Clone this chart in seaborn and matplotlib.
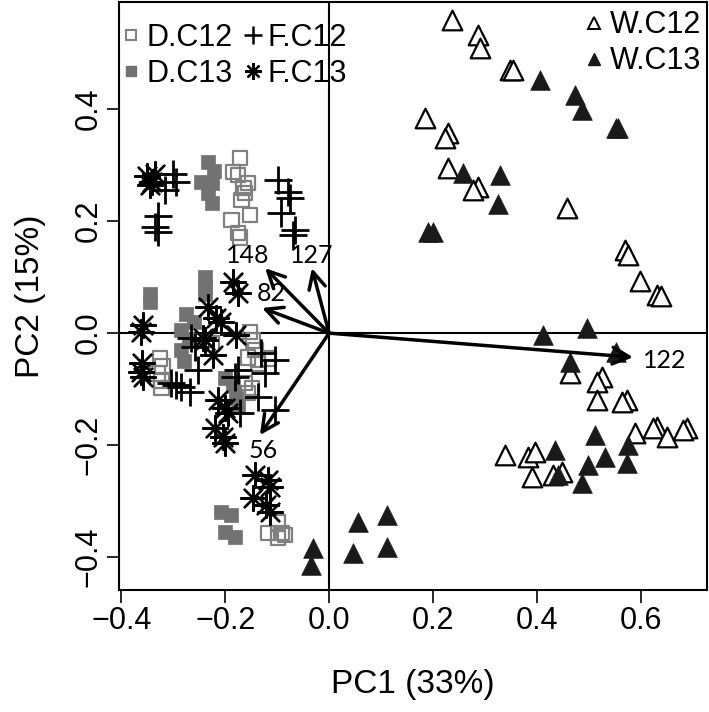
import numpy as np
import pandas as pd
import matplotlib
matplotlib.use('Agg')
import matplotlib.pyplot as plt
from matplotlib.lines import Line2D
import seaborn as sns

# PCA scores, per group
dc12_x = [-0.171, -0.185, -0.175, -0.156, -0.165, -0.162, -0.169, -0.152, -0.188, -0.175, -0.171,
          -0.325, -0.320, -0.330, -0.322, -0.322,
          -0.152, -0.146, -0.142, -0.156, -0.117, -0.137, -0.137, -0.148, -0.156, -0.162, -0.225,
          -0.098, -0.117, -0.092, -0.098, -0.085]
dc12_y = [0.313, 0.288, 0.282, 0.268, 0.259, 0.250, 0.238, 0.211, 0.202, 0.179, 0.171,
          -0.045, -0.060, -0.072, -0.085, -0.098,
          0.002, -0.013, -0.030, -0.043, -0.045, -0.048, -0.054, -0.098, -0.107, -0.089, -0.018,
          -0.338, -0.357, -0.357, -0.366, -0.360]

dc13_x = [-0.233, -0.222, -0.247, -0.226, -0.233, -0.226,
          -0.238, -0.238, -0.238, -0.345, -0.345,
          -0.275, -0.260, -0.285, -0.270, -0.285, -0.280,
          -0.200, -0.185, -0.180, -0.175,
          -0.208, -0.188, -0.200, -0.181]
dc13_y = [0.305, 0.290, 0.270, 0.268, 0.250, 0.232,
          0.100, 0.085, 0.070, 0.070, 0.055,
          0.035, 0.020, 0.005, -0.010, -0.030, -0.050,
          -0.080, -0.095, -0.115, -0.130,
          -0.320, -0.325, -0.355, -0.364]

fc12_x = [-0.300, -0.295, -0.315, -0.330, -0.335, -0.330,
          -0.098, -0.079, -0.075, -0.092, -0.065, -0.069,
          -0.265, -0.258, -0.252, -0.304, -0.294, -0.285, -0.267,
          -0.131, -0.104, -0.123, -0.175, -0.181, -0.137, -0.104, -0.171]
fc12_y = [0.285, 0.270, 0.255, 0.210, 0.190, 0.180,
          0.273, 0.252, 0.241, 0.214, 0.184, 0.175,
          -0.009, -0.025, -0.066, -0.089, -0.093, -0.096, -0.105,
          -0.036, -0.048, -0.071, -0.066, -0.079, -0.114, -0.138, -0.143]

fc13_x = [-0.350, -0.340, -0.335, -0.345,
          -0.185, -0.175,
          -0.358, -0.362, -0.362, -0.358, -0.360,
          -0.233, -0.217, -0.208, -0.180, -0.242, -0.223, -0.238,
          -0.213, -0.200, -0.194, -0.219, -0.204, -0.200,
          -0.142, -0.117, -0.113, -0.146, -0.121, -0.113]
fc13_y = [0.280, 0.270, 0.285, 0.265,
          0.091, 0.071,
          0.014, 0.002, -0.070, -0.079, -0.054,
          0.046, 0.027, 0.020, -0.004, -0.009, -0.039, -0.013,
          -0.120, -0.134, -0.143, -0.170, -0.186, -0.196,
          -0.254, -0.263, -0.275, -0.295, -0.307, -0.320]

wc12_x = [0.236, 0.287, 0.290, 0.348, 0.354, 0.185, 0.229, 0.223, 0.229, 0.287, 0.277,
          0.458, 0.569, 0.575, 0.598, 0.631, 0.638,
          0.463, 0.525, 0.515, 0.515, 0.573, 0.563, 0.631, 0.623, 0.650, 0.688, 0.681, 0.588,
          0.338, 0.383, 0.396, 0.390, 0.431, 0.448]
wc12_y = [0.559, 0.532, 0.509, 0.470, 0.470, 0.384, 0.357, 0.348, 0.295, 0.261, 0.255,
          0.223, 0.148, 0.139, 0.093, 0.068, 0.066,
          -0.071, -0.079, -0.088, -0.120, -0.120, -0.123, -0.168, -0.170, -0.186, -0.170, -0.173, -0.179,
          -0.218, -0.221, -0.213, -0.257, -0.254, -0.248]

wc13_x = [0.406, 0.473, 0.487, 0.556, 0.553, 0.258, 0.329,
          0.325, 0.190, 0.200,
          0.412, 0.496, 0.553, 0.463,
          0.575, 0.512, 0.531, 0.573, 0.498, 0.487, 0.435, 0.440,
          0.056, 0.111, 0.111, 0.046, -0.031, -0.035]
wc13_y = [0.452, 0.425, 0.398, 0.366, 0.366, 0.286, 0.282,
          0.230, 0.180, 0.180,
          -0.004, 0.009, -0.034, -0.052,
          -0.200, -0.182, -0.221, -0.232, -0.236, -0.268, -0.209, -0.254,
          -0.338, -0.325, -0.382, -0.393, -0.384, -0.414]

# variable loadings (arrow tips) and labels
load_labels = ['148', '127', '82', '56', '122']
load_x = [-0.123, -0.033, -0.129, -0.133, 0.585]
load_y = [0.116, 0.116, 0.045, -0.182, -0.043]

groups = {'D.C12': (dc12_x, dc12_y), 'D.C13': (dc13_x, dc13_y),
          'F.C12': (fc12_x, fc12_y), 'F.C13': (fc13_x, fc13_y),
          'W.C12': (wc12_x, wc12_y), 'W.C13': (wc13_x, wc13_y)}
df = pd.concat([pd.DataFrame({'PC1': v[0], 'PC2': v[1], 'group': k}) for k, v in groups.items()],
               ignore_index=True)

sns.set_style('white')
plt.rcParams['font.family'] = ['Liberation Sans', 'DejaVu Sans']
plt.rcParams.update({'text.color': 'black', 'axes.labelcolor': 'black',
                     'xtick.color': 'black', 'ytick.color': 'black'})

fig = plt.figure(figsize=(7.09, 7.12), dpi=100)
ax = fig.add_axes([0.168, 0.171, 0.829, 0.826])

grey = '#7a7a7a'
asterisk = (8, 2, 0)
styles = {
    'D.C12': dict(marker='s', s=110, facecolor='none', edgecolor='#808080', linewidth=1.6),
    'D.C13': dict(marker='s', s=110, color='#727272', edgecolor='#727272', linewidth=0.5),
    'F.C12': dict(marker='+', s=420, color='black', linewidth=2.0),
    'F.C13': dict(marker=asterisk, s=320, color='black', linewidth=1.7),
    'W.C12': dict(marker='^', s=200, facecolor='white', edgecolor='black', linewidth=1.6),
    'W.C13': dict(marker='^', s=200, color='#1a1a1a', edgecolor='#1a1a1a', linewidth=0.5),
}
for g in groups:
    sns.scatterplot(data=df[df.group == g], x='PC1', y='PC2', ax=ax, legend=False, **styles[g])

ax.axhline(0, color='black', lw=1.5, zorder=0)
ax.axvline(0, color='black', lw=1.5, zorder=0)

label_pos = [(-0.156, 0.139), (-0.033, 0.139), (-0.112, 0.071), (-0.127, -0.209), (0.645, -0.048)]
for lab, lx, ly, (tx, ty) in zip(load_labels, load_x, load_y, label_pos):
    ax.annotate('', xy=(lx, ly), xytext=(0, 0),
                arrowprops=dict(arrowstyle='->, head_length=0.6, head_width=0.3',
                                lw=2.5, color='black', mutation_scale=20, shrinkA=0, shrinkB=0))
    ax.text(tx, ty, lab, fontsize=18, ha='center', va='center', family=['Lato', 'DejaVu Sans'])

ax.set_xlim(-0.404, 0.727)
ax.set_ylim(-0.459, 0.591)
ax.set_xticks([-0.4, -0.2, 0.0, 0.2, 0.4, 0.6])
ax.set_yticks([-0.4, -0.2, 0.0, 0.2, 0.4])
ax.set_xticklabels(['\u22120.4', '\u22120.2', '0.0', '0.2', '0.4', '0.6'])
ax.set_yticklabels(['\u22120.4', '\u22120.2', '0.0', '0.2', '0.4'], rotation=90, va='center')
for t in ax.get_xticklabels() + ax.get_yticklabels():
    t.set_fontsize(22)
ax.tick_params(direction='out', length=9, width=1.2, color='black', pad=2, bottom=True, left=True)
ax.set_xlabel('PC1 (33%)', fontsize=24, labelpad=24)
ax.set_ylabel('PC2 (15%)', fontsize=24, labelpad=20)
for sp in ax.spines.values():
    sp.set_color('black')
    sp.set_linewidth(1.5)

h_dc12 = Line2D([], [], ls='', marker='s', ms=7, mfc='none', mec='#808080', mew=1.5)
h_dc13 = Line2D([], [], ls='', marker='s', ms=7, mfc='#727272', mec='#727272')
h_fc12 = Line2D([], [], ls='', marker='+', ms=13, mec='black', mew=1.8)
h_fc13 = Line2D([], [], ls='', marker=asterisk, ms=12, mec='black', mew=1.6)
leg1 = ax.legend([h_dc12, h_dc13, h_fc12, h_fc13], ['D.C12', 'D.C13', 'F.C12', 'F.C13'],
                 ncol=2, loc='upper left', bbox_to_anchor=(0.005, 0.965), frameon=False,
                 fontsize=22, handlelength=0.6, handletextpad=0.2, columnspacing=0.35,
                 labelspacing=0.2, borderpad=0, borderaxespad=0)
ax.add_artist(leg1)
h_wc12 = Line2D([], [], ls='', marker='^', ms=9, mfc='white', mec='black', mew=1.4)
h_wc13 = Line2D([], [], ls='', marker='^', ms=9, mfc='#1a1a1a', mec='#1a1a1a')
ax.legend([h_wc12, h_wc13], ['W.C12', 'W.C13'], loc='upper right',
          bbox_to_anchor=(0.99, 0.986), frameon=False, fontsize=22, handlelength=0.6,
          handletextpad=0.2, labelspacing=0.2, borderpad=0, borderaxespad=0)

fig.savefig('out.png', dpi=100)
